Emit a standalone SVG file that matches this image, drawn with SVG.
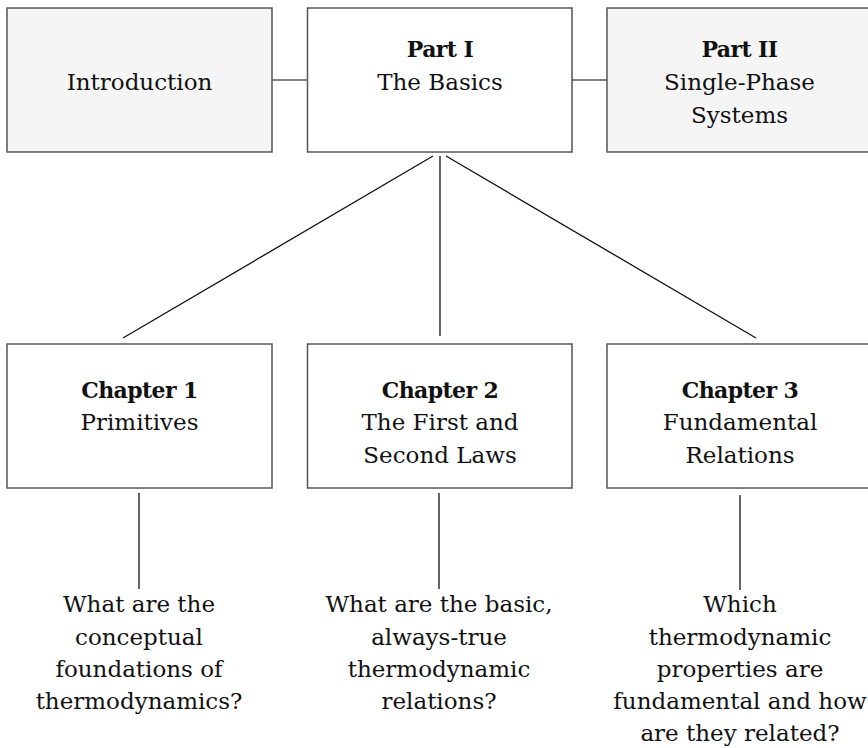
<svg xmlns="http://www.w3.org/2000/svg" width="868" height="748" viewBox="0 0 868 748">
<style>
.box{fill:#ffffff;stroke:#555555;stroke-width:1.5}
.grey{fill:#f5f5f5}
.t{font-family:"DejaVu Serif","Liberation Serif",serif;font-size:23px;fill:#111111;text-anchor:middle}
.b{font-weight:bold;font-size:22px;letter-spacing:-0.6px}
.con{stroke:#111111;stroke-width:1.3;fill:none}
.hcon{stroke:#555555;stroke-width:1.5;fill:none}
</style>
<rect width="868" height="748" fill="#ffffff"/>
<g id="connectors">
<line class="hcon" x1="272" y1="80" x2="307" y2="80"/>
<line class="hcon" x1="572" y1="80" x2="607" y2="80"/>
<line class="con" x1="433" y1="156" x2="123" y2="338"/>
<line class="con" x1="440" y1="156" x2="440" y2="336"/>
<line class="con" x1="446" y1="156" x2="756" y2="338"/>
<line class="con" x1="139" y1="493" x2="139" y2="589"/>
<line class="con" x1="439" y1="493" x2="439" y2="589"/>
<line class="con" x1="740" y1="495" x2="740" y2="590"/>
</g>
<g id="introduction">
<rect class="box grey" x="7" y="8" width="265" height="144"/>
<text class="t" x="139.5" y="90">Introduction</text>
</g>
<g id="part1">
<rect class="box" x="307.5" y="8" width="264.5" height="144"/>
<text class="t b" x="440" y="57">Part I</text>
<text class="t" x="440" y="90">The Basics</text>
</g>
<g id="part2">
<rect class="box grey" x="607" y="8" width="270" height="144"/>
<text class="t b" x="739.5" y="57">Part II</text>
<text class="t" x="739.5" y="90">Single-Phase</text>
<text class="t" x="739.5" y="123">Systems</text>
</g>
<g id="chapter1">
<rect class="box" x="7" y="344" width="265" height="144"/>
<text class="t b" x="139.5" y="398">Chapter 1</text>
<text class="t" x="139.5" y="430">Primitives</text>
</g>
<g id="chapter2">
<rect class="box" x="307.5" y="344" width="264.5" height="144"/>
<text class="t b" x="440" y="398">Chapter 2</text>
<text class="t" x="440" y="430">The First and</text>
<text class="t" x="440" y="463">Second Laws</text>
</g>
<g id="chapter3">
<rect class="box" x="607" y="344" width="270" height="144"/>
<text class="t b" x="740" y="398">Chapter 3</text>
<text class="t" x="740" y="430">Fundamental</text>
<text class="t" x="740" y="463">Relations</text>
</g>
<g id="question1">
<text class="t" x="139" y="612">What are the</text>
<text class="t" x="139" y="645">conceptual</text>
<text class="t" x="139" y="677">foundations of</text>
<text class="t" x="139" y="709">thermodynamics?</text>
</g>
<g id="question2">
<text class="t" x="439" y="612">What are the basic,</text>
<text class="t" x="439" y="645">always-true</text>
<text class="t" x="439" y="677">thermodynamic</text>
<text class="t" x="439" y="709">relations?</text>
</g>
<g id="question3">
<text class="t" x="740" y="612">Which</text>
<text class="t" x="740" y="645">thermodynamic</text>
<text class="t" x="740" y="677">properties are</text>
<text class="t" x="740" y="709">fundamental and how</text>
<text class="t" x="740" y="741">are they related?</text>
</g>
</svg>
